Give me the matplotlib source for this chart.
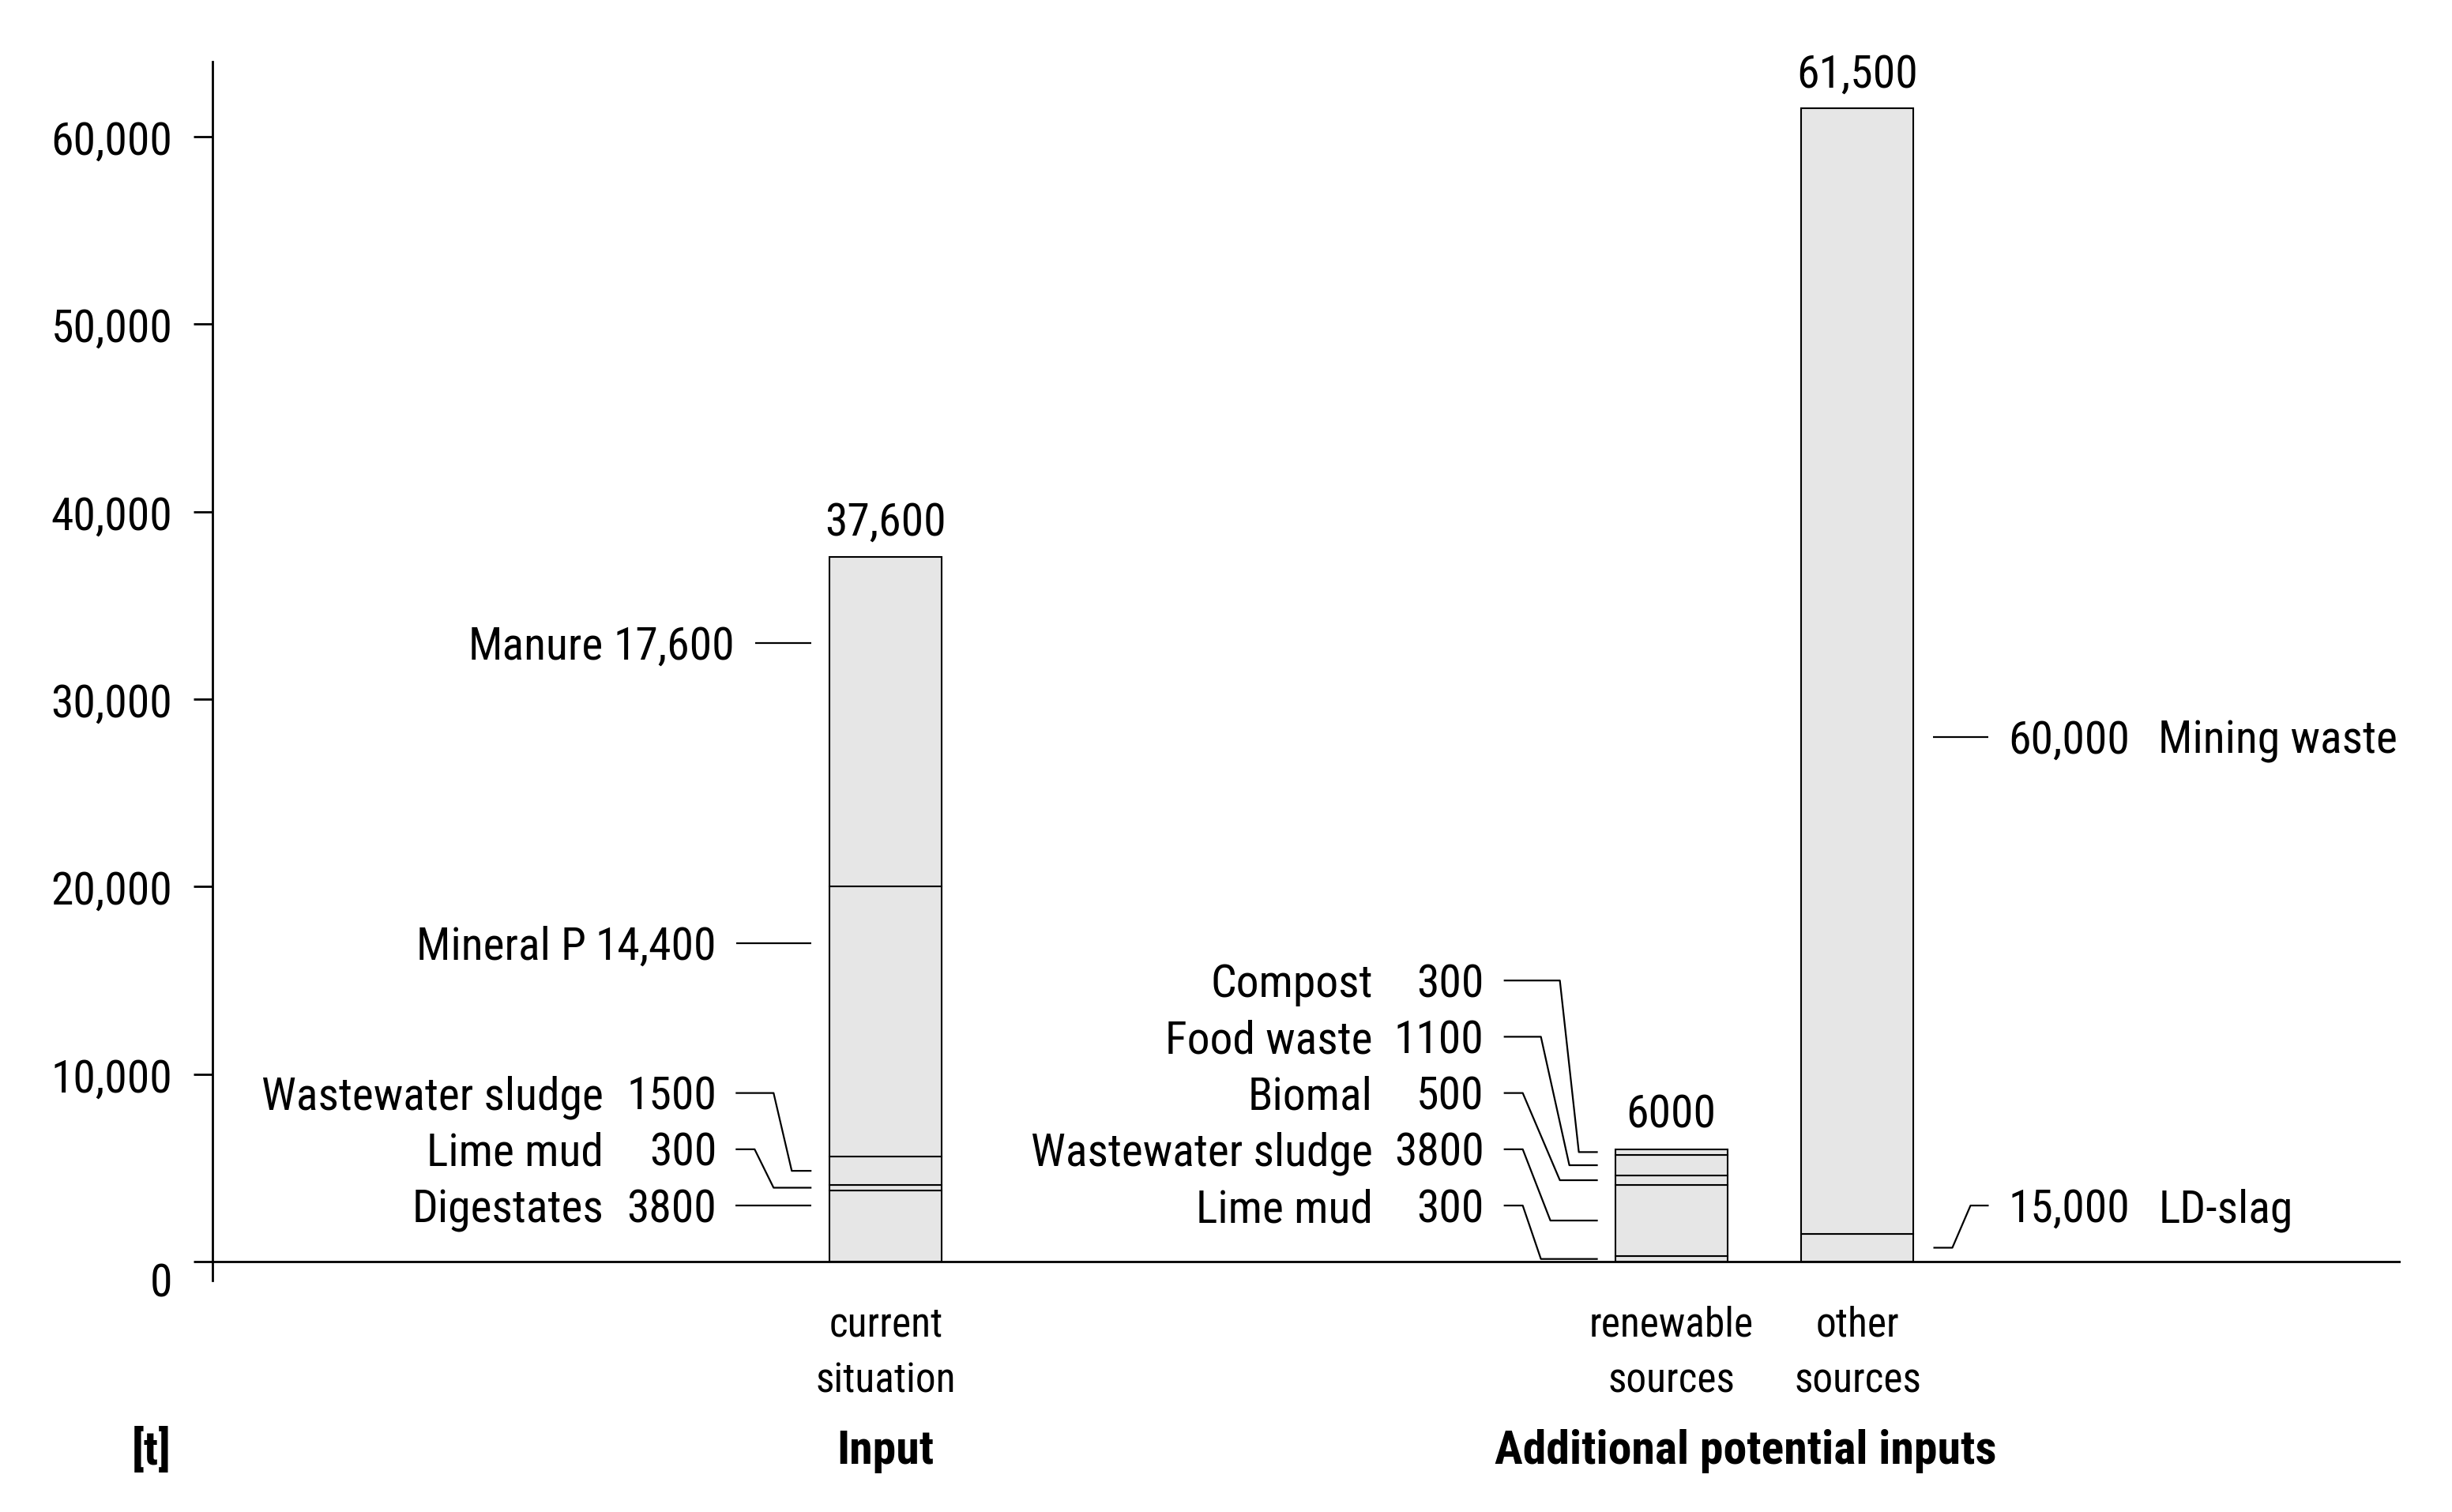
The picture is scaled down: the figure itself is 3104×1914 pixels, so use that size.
import numpy as np
import matplotlib
matplotlib.use("Agg")
import matplotlib.pyplot as plt
from matplotlib import font_manager
from matplotlib.transforms import ScaledTranslation, blended_transform_factory

# pick a condensed sans if one is installed
names_installed = {f.name for f in font_manager.fontManager.ttflist}
FONT = "DejaVu Sans"
for cand in ["Roboto Condensed", "Liberation Sans Narrow", "Roboto"]:
    if cand in names_installed:
        FONT = cand
        break
plt.rcParams["font.family"] = [FONT, "DejaVu Sans"]

# ---- data ----
bar_names = ["current\nsituation", "renewable\nsources", "other\nsources"]
bar_x = [0.0, 7.0, 8.66]

current_labels = ["Digestates", "Lime mud", "Wastewater sludge", "Mineral P", "Manure"]
current_values = [3800, 300, 1500, 14400, 17600]
current_texts = ["3800", "300", "1500", "14,400", "17,600"]

renew_labels = ["Lime mud", "Wastewater sludge", "Biomal", "Food waste", "Compost"]
renew_values = [300, 3800, 500, 1100, 300]
renew_texts = ["300", "3800", "500", "1100", "300"]

other_labels = ["LD-slag", "Mining waste"]
other_values = [1500, 60000]
other_texts = ["15,000", "60,000"]

totals_text = ["37,600", "6000", "61,500"]

# annotation layout (label heights in data units, pixel offsets from bar edge)
current_label_y = [3000, 6000, 9000, 17000, 33000]
current_line = [(-119, None, None, -23), (-119, -95, -71, -23), (-119, -71, -48, -23),
                (-118, None, None, -23), (-94, None, None, -23)]
current_num_dx = [-143, -143, -143, -143, -120]
current_name_dx = [-286, -286, -286, -308, -286]

renew_label_y = [3000, 6000, 9000, 12000, 15000]
renew_line = [(-141, -117, -94, -22), (-141, -117, -82, -22), (-141, -117, -70, -22),
              (-141, -94, -58, -22), (-141, -70, -46, -22)]
renew_num_dx = [-166] * 5
renew_name_dx = [-307] * 5

other_label_y = [3000, 28000]
other_line = [(95, 72, 49, 25), (95, None, None, 25)]
other_num_dx = [120, 120]
other_name_dx = [310, 310]

FILL = "#e6e6e6"
FS = 41.5
FS_CAT = 37
FS_BOLD = 43
DPI = 100
W_PX, H_PX = 3104, 1915
BAR_W = 1.0
XLIM = (-6.0, 13.5)
YLIM = (-1000, 64000)

fig = plt.figure(figsize=(W_PX / DPI, H_PX / DPI), dpi=DPI)
ax_left, ax_right = 269 / W_PX, 3039 / W_PX
ax = fig.add_axes([ax_left, 1 - 1622 / H_PX, ax_right - ax_left, (1622 - 79) / H_PX])
ppu = (ax_right - ax_left) * W_PX / (XLIM[1] - XLIM[0])   # pixels per x unit


def px(d):
    return d / ppu


def stack(x, values):
    bottoms = np.concatenate([[0], np.cumsum(values)[:-1]])
    ax.bar([x] * len(values), values, bottom=bottoms, width=BAR_W, color=FILL,
           edgecolor="black", linewidth=1.5, zorder=2)
    return bottoms


def annotate(x_edge, bottoms, values, label_y, lines, num_dx, name_dx, nums, names, side):
    ha = "right" if side == "left" else "left"
    for b, v, ly, ln, ndx, mdx, nt, nm in zip(bottoms, values, label_y, lines,
                                                num_dx, name_dx, nums, names):
        anchor = ly if b <= ly <= b + v else b + v / 2
        s, b1, b2, e = ln
        if b1 is None:
            xs, ys = [s, e], [ly, ly]
        else:
            xs, ys = [s, b1, b2, e], [ly, ly, anchor, anchor]
        ax.plot([x_edge + px(d) for d in xs], ys, color="black", lw=1.6,
                solid_capstyle="butt", clip_on=False, zorder=3)
        for dx, txt in ((ndx, nt), (mdx, nm)):
            ax.annotate(txt, xy=(x_edge, ly), xytext=(dx, -20), textcoords="offset pixels",
                        ha=ha, va="baseline", fontsize=FS, annotation_clip=False)


b_cur = stack(bar_x[0], current_values)
b_ren = stack(bar_x[1], renew_values)
b_oth = stack(bar_x[2], other_values)

annotate(bar_x[0] - BAR_W / 2, b_cur, current_values, current_label_y, current_line,
         current_num_dx, current_name_dx, current_texts, current_labels, "left")
annotate(bar_x[1] - BAR_W / 2, b_ren, renew_values, renew_label_y, renew_line,
         renew_num_dx, renew_name_dx, renew_texts, renew_labels, "left")
annotate(bar_x[2] + BAR_W / 2, b_oth, other_values, other_label_y, other_line,
         other_num_dx, other_name_dx, other_texts, other_labels, "right")

# totals above bars
for x, vals, t in zip(bar_x, [current_values, renew_values, other_values], totals_text):
    ax.annotate(t, xy=(x, sum(vals)), xytext=(0, 28), textcoords="offset pixels",
                ha="center", va="baseline", fontsize=FS, annotation_clip=False)

# axes styling
ax.set_xlim(*XLIM)
ax.set_ylim(*YLIM)
for s in ["top", "right", "bottom"]:
    ax.spines[s].set_visible(False)
ax.spines["left"].set_linewidth(2.0)
ax.axhline(0, color="black", lw=2.0, zorder=4)
ax.set_xticks([])
ticks = np.arange(0, 60001, 10000)
ax.set_yticks(ticks)
ax.set_yticklabels([f"{t:,}" for t in ticks])
ax.tick_params(axis="y", length=17.5, width=2.0, pad=19, labelsize=FS)
lab0 = ax.get_yticklabels()[0]
lab0.set_transform(lab0.get_transform() + ScaledTranslation(0, -22 / DPI, fig.dpi_scale_trans))

# category labels and group titles
tr = blended_transform_factory(ax.transData, fig.transFigure)
for x, n in zip(bar_x, bar_names):
    ax.text(x, 1 - 1713 / H_PX, n, transform=tr, ha="center", va="center",
            fontsize=FS_CAT, linespacing=1.52, multialignment="center")
ax.text(bar_x[0], 1 - 1837 / H_PX, "Input", transform=tr, ha="center", va="center",
        fontsize=FS_BOLD, fontweight="bold")
ax.text(7.66, 1 - 1837 / H_PX, "Additional potential inputs", transform=tr, ha="center",
        va="center", fontsize=FS_BOLD, fontweight="bold")
fig.text(192 / W_PX, 1 - 1837 / H_PX, "[t]", ha="center", va="center",
         fontsize=FS_BOLD, fontweight="bold")

fig.savefig("out.png", dpi=DPI)
